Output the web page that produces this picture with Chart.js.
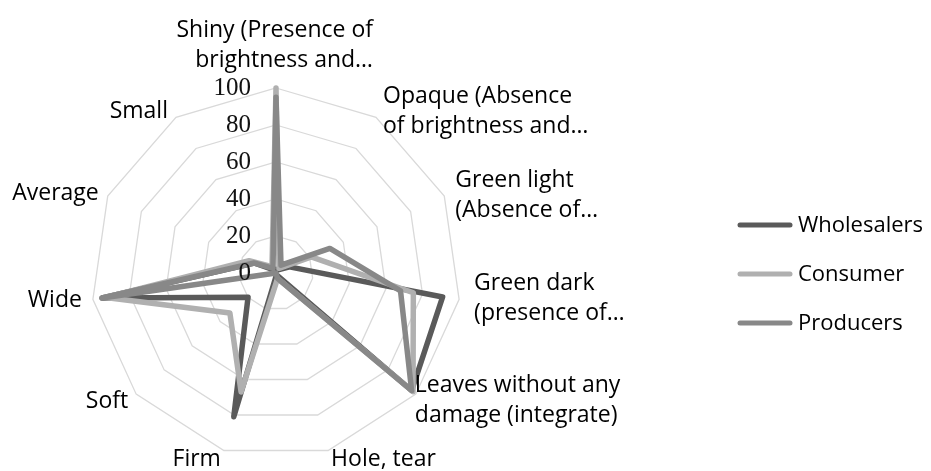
<!DOCTYPE html>
<html>
<head>
<meta charset="utf-8">
<script src="https://cdn.jsdelivr.net/npm/chart.js@4.4.0/dist/chart.umd.min.js"></script>
<style>
  html, body { margin: 0; padding: 0; background: #fff; }
  #wrap { width: 931px; height: 471px; }
</style>
</head>
<body>
<div id="wrap"><canvas id="radar" width="931" height="471"></canvas></div>
<script>
// axis names, as the wrapped (and cut) labels read on the chart
var categories = [
  ["Shiny (Presence of", "brightness and…"],
  ["Opaque (Absence", "of brightness and…"],
  ["Green light", "(Absence of…"],
  ["Green dark", "(presence of…"],
  ["Leaves without any", "damage (integrate)"],
  ["Hole, tear"],
  ["Firm"],
  ["Soft"],
  ["Wide"],
  ["Average"],
  ["Small"]
];
var seriesNames = ["Wholesalers", "Consumer", "Producers"];
var wholesalers = [2, 2, 8, 91, 97, 1, 81, 20, 95, 13, 2];
var consumer    = [100, 3, 21, 75, 98, 3, 67, 33, 93, 16, 4];
var producers   = [95, 5, 32, 68, 97, 3, 0, 0, 95, 13, 3];
var tickValues  = [0, 20, 40, 60, 80, 100];

var colors = ["#5a5a5a", "#b0b0b0", "#888888"];

// where each axis name sits relative to the end of its spoke (style only)
var labelPlace = [
  { align: "right", dx: 97,  dy: -51 },
  { align: "left",  dx: 7,   dy: -14 },
  { align: "left",  dx: 11,  dy: -9 },
  { align: "left",  dx: 15,  dy: -9 },
  { align: "left",  dx: -1,  dy: -2 },
  { align: "left",  dx: 3,   dy: 15 },
  { align: "right", dx: -3,  dy: 15 },
  { align: "right", dx: -8,  dy: 14 },
  { align: "right", dx: -11, dy: 8 },
  { align: "right", dx: -9,  dy: 4 },
  { align: "right", dx: -8,  dy: 1 }
];

// excel-like text: ticks left of the top spoke, names, legend on the right
var textPlugin = {
  id: "excelText",
  afterDatasetsDraw: function(chart) {
    var ctx = chart.ctx;
    var r = chart.scales.r;
    ctx.save();

    ctx.font = '25px "Liberation Serif"';
    ctx.fillStyle = "#111";
    ctx.textAlign = "right";
    ctx.textBaseline = "middle";
    tickValues.forEach(function(v) {
      var d = r.getDistanceFromCenterForValue(v);
      ctx.fillText(String(v), r.xCenter - 25, r.yCenter - d);
    });

    ctx.font = '23px "Open Sans"';
    ctx.fillStyle = "#000";
    ctx.textBaseline = "alphabetic";
    categories.forEach(function(lines, i) {
      var p = r.getPointPosition(i, r.drawingArea);
      var pl = labelPlace[i];
      ctx.textAlign = pl.align;
      lines.forEach(function(t, k) {
        ctx.fillText(t, p.x + pl.dx, p.y + pl.dy + k * 30);
      });
    });

    // legend
    ctx.font = '22px "Open Sans"';
    ctx.textAlign = "left";
    ctx.textBaseline = "middle";
    ctx.lineCap = "round";
    ctx.lineWidth = 5;
    chart.data.datasets.forEach(function(ds, i) {
      var y = 225 + i * 49;
      ctx.strokeStyle = ds.borderColor;
      ctx.beginPath();
      ctx.moveTo(740, y);
      ctx.lineTo(790, y);
      ctx.stroke();
      ctx.fillText(ds.label, 798, y + 1);
    });

    ctx.restore();
  }
};

function makeSet(name, values, color, order) {
  return {
    label: name,
    data: values,
    borderColor: color,
    backgroundColor: "transparent",
    borderWidth: 5.5,
    borderJoinStyle: "round",
    borderCapStyle: "round",
    pointRadius: 0,
    pointHoverRadius: 0,
    fill: false,
    tension: 0,
    order: order
  };
}

var ctx = document.getElementById("radar").getContext("2d");
var chart = new Chart(ctx, {
  type: "radar",
  plugins: [textPlugin],
  data: {
    labels: categories,
    datasets: [
      makeSet(seriesNames[0], wholesalers, colors[0], 3),
      makeSet(seriesNames[1], consumer, colors[1], 2),
      makeSet(seriesNames[2], producers, colors[2], 1)
    ]
  },
  options: {
    responsive: false,
    animation: false,
    devicePixelRatio: 1,
    layout: { padding: { left: 91, top: 88, right: 470, bottom: 13 } },
    plugins: {
      legend: { display: false },
      tooltip: { enabled: false }
    },
    scales: {
      r: {
        min: 0,
        max: 100,
        ticks: { stepSize: 20, display: false },
        grid: { color: "#d9d9d9", lineWidth: 1.3 },
        angleLines: { display: false },
        pointLabels: { display: false }
      }
    }
  }
});
</script>
</body>
</html>
